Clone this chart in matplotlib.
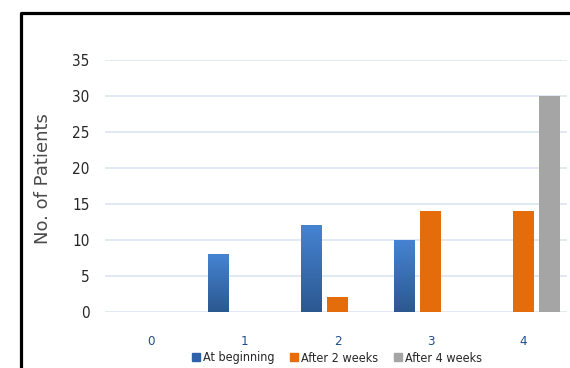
import matplotlib.pyplot as plt
import matplotlib.colors as mcolors
from matplotlib.lines import Line2D
import numpy as np

categories = ["0", "1", "2", "3", "4"]
at_beginning = [0, 8, 12, 10, 0]
after_2_weeks = [0, 0, 2, 14, 14]
after_4_weeks = [0, 0, 0, 0, 30]
series_names = ["At beginning", "After 2 weeks", "After 4 weeks"]

plt.rcParams['font.family'] = ['DejaVu Sans']

fig = plt.figure(figsize=(5.70, 3.68), dpi=100)
ax = fig.add_axes([105/570, (368-311.7)/368, 462/570, 252/368])

x = np.arange(len(categories))
w = 0.225
off = 0.28

blue_grad = mcolors.LinearSegmentedColormap.from_list("bg", ["#2c5890", "#4583d2"])
orange = "#e46c0a"
gray = "#a5a5a5"

def gradient_bar(xc, h):
    if h <= 0:
        return
    grad = np.linspace(0, 1, 64).reshape(-1, 1)
    ax.imshow(grad, extent=(xc - w/2, xc + w/2, 0, h), origin="lower",
              cmap=blue_grad, aspect="auto", zorder=3)

for xi, h in zip(x - off, at_beginning):
    gradient_bar(xi, h)
ax.bar(x, after_2_weeks, w, color=orange, zorder=3)
ax.bar(x + off, after_4_weeks, w, color=gray, zorder=3)

ax.set_xlim(-0.5, -0.5 + 462/93)
ax.set_ylim(0, 35)
ax.set_yticks(range(0, 36, 5))
ax.set_xticks(x)
ax.set_xticklabels(categories)
ax.grid(axis="y", color="#dce6f2", linewidth=1.2, zorder=0)
for s in ax.spines.values():
    s.set_visible(False)
ax.tick_params(axis="both", length=0)
ax.tick_params(axis="y", pad=11, labelsize=11, labelcolor="#262626")
ax.tick_params(axis="x", pad=17, labelsize=9.5, labelcolor="#1f4e8c")
for lbl in ax.get_xticklabels() + ax.get_yticklabels():
    lbl.set_fontstretch("condensed")
ax.set_ylabel("No. of Patients", fontsize=13, color="#4a4a4a")
ax.yaxis.set_label_coords(-0.115, 0.53)

handles = [Line2D([], [], marker="s", linestyle="none", markersize=6, color=c)
           for c in ["#2f62a8", orange, gray]]
fig.legend(handles, series_names, loc="center", bbox_to_anchor=(336/570, 1 - 358/368),
           ncol=3, frameon=False, handletextpad=0.05, handlelength=1.0,
           columnspacing=1.1, labelcolor="#262626", borderaxespad=0,
           prop={"size": 9, "stretch": "condensed"})

# outer frame (left and top edges)
fig.add_artist(Line2D([21/570, 21/570, 1.0], [0, 1 - 13/368, 1 - 13/368],
                      transform=fig.transFigure, color="black", linewidth=2.3))

fig.savefig("out.png", dpi=100)
